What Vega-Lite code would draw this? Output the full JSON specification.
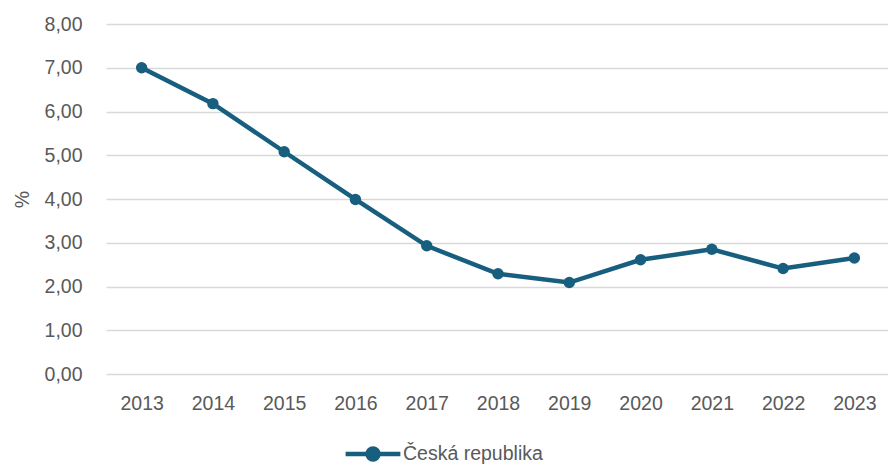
{
  "$schema": "https://vega.github.io/schema/vega-lite/v6.json",
  "width": 784,
  "height": 350,
  "autosize": "none",
  "padding": {"left": 106, "top": 24, "right": 0, "bottom": 92},
  "background": "white",
  "config": {
    "view": {"stroke": null},
    "font": "Liberation Sans"
  },
  "data": {
    "values": [
      {"rok": "2013", "hodnota": 7.0, "serie": "Česká republika"},
      {"rok": "2014", "hodnota": 6.18, "serie": "Česká republika"},
      {"rok": "2015", "hodnota": 5.08, "serie": "Česká republika"},
      {"rok": "2016", "hodnota": 3.99, "serie": "Česká republika"},
      {"rok": "2017", "hodnota": 2.93, "serie": "Česká republika"},
      {"rok": "2018", "hodnota": 2.29, "serie": "Česká republika"},
      {"rok": "2019", "hodnota": 2.09, "serie": "Česká republika"},
      {"rok": "2020", "hodnota": 2.61, "serie": "Česká republika"},
      {"rok": "2021", "hodnota": 2.85, "serie": "Česká republika"},
      {"rok": "2022", "hodnota": 2.41, "serie": "Česká republika"},
      {"rok": "2023", "hodnota": 2.65, "serie": "Česká republika"}
    ]
  },
  "mark": {"type": "line", "strokeWidth": 4.5, "point": {"filled": true, "size": 130}},
  "encoding": {
    "x": {
      "field": "rok", "type": "ordinal", "title": null,
      "scale": {"type": "point", "padding": 0.5},
      "axis": {"labelAngle": 0, "domain": false, "ticks": false, "labelPadding": 20, "labelFontSize": 19.5, "labelColor": "#595959", "grid": false}
    },
    "y": {
      "field": "hodnota", "type": "quantitative", "title": "%",
      "scale": {"domain": [0, 8]},
      "axis": {
        "values": [0, 1, 2, 3, 4, 5, 6, 7, 8],
        "labelExpr": "replace(format(datum.value, '.2f'), '.', ',')",
        "domain": false, "ticks": false, "labelPadding": 24,
        "labelFontSize": 19.5, "labelColor": "#595959",
        "gridColor": "#d9d9d9", "gridWidth": 1.3,
        "titleFontSize": 19.5, "titleFontWeight": "normal", "titleColor": "#595959", "titlePadding": 12
      }
    },
    "color": {
      "field": "serie", "type": "nominal", "title": null,
      "scale": {"range": ["#175e7f"]},
      "legend": {
        "orient": "none", "legendX": 237, "legendY": 400,
        "symbolType": "M-1,0L1,0M0.2,0A0.2,0.2 0 1,1 -0.2,0A0.2,0.2 0 1,1 0.2,0Z",
        "symbolSize": 3000, "symbolStrokeWidth": 4.5,
        "labelFontSize": 19.5, "labelColor": "#595959", "labelOffset": 0
      }
    }
  }
}
